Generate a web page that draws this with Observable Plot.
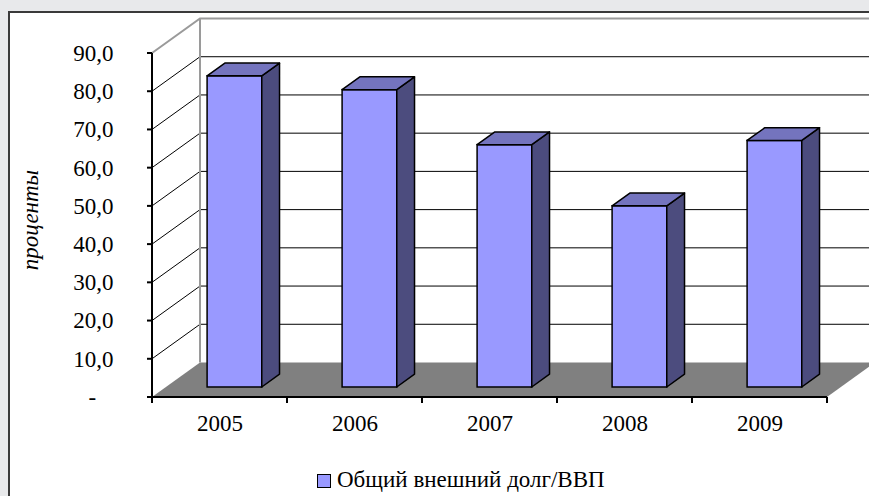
<!DOCTYPE html>
<html><head><meta charset="utf-8">
<script src="https://cdn.jsdelivr.net/npm/d3@7"></script>
<script src="https://cdn.jsdelivr.net/npm/@observablehq/plot@0.6"></script>
<style>
html,body{margin:0;padding:0;}
body{background:#e8e9eb;width:869px;height:496px;overflow:hidden;position:relative;font-family:"Liberation Serif","Times New Roman",serif;}
#box{position:absolute;left:8px;top:11px;width:900px;height:520px;background:#fff;border-left:2px solid #3a3a3a;border-top:2px solid #3a3a3a;}
#chart{position:absolute;left:0;top:0;}
#legend{position:absolute;left:317px;top:468px;font-size:23px;line-height:24px;white-space:nowrap;color:#000;}
#legend .sw{display:inline-block;width:12px;height:12px;background:#9999ff;border:1.5px solid #000;margin-right:6px;vertical-align:-1px;}
</style>
</head><body>
<div id="box"></div>
<div id="chart"></div>
<div id="legend"></div>
<script>
const years = ["2005", "2006", "2007", "2008", "2009"];
const values = [81.4, 77.8, 63.4, 47.4, 64.5];
const yTicks = [0, 10, 20, 30, 40, 50, 60, 70, 80, 90];
const seriesName = "Общий внешний долг/ВВП";
const yLabel = "проценты";

const W = 869, H = 440;
const M = {top: 53, right: 42, bottom: 43, left: 152};
const DEPTH = [48, -34.5];
const FRONT = 0.29, BACK = 0.66;
const BAR_L = 0.305, BAR_R = 0.71;
const bw = (W - M.left - M.right) / years.length;
const off = f => [DEPTH[0] * f, DEPTH[1] * f];

const data = years.map((year, i) => ({year, value: values[i]}));

function room(index, {x, y}) {
  const g = d3.create("svg:g");
  const x0 = M.left, x1 = W - M.right, y0 = y(0);
  const [dx, dy] = DEPTH;
  g.append("path")
    .attr("d", `M${x0},${y0}L${x1},${y0}L${x1 + dx},${y0 + dy}L${x0 + dx},${y0 + dy}Z`)
    .attr("fill", "#808080");
  const top = yTicks[yTicks.length - 1];
  for (const t of yTicks) {
    if (t === 0) continue;
    const yt = y(t);
    g.append("path")
      .attr("d", `M${x0},${yt}L${x0 + dx},${yt + dy}L${x1 + dx + 30},${yt + dy}`)
      .attr("fill", "none")
      .attr("stroke", t === top ? "#9a9a9a" : "#000")
      .attr("stroke-width", t === top ? 2 : 1);
  }
  g.append("line")
    .attr("x1", x0 + dx).attr("x2", x0 + dx)
    .attr("y1", y(top) + dy).attr("y2", y0 + dy)
    .attr("stroke", "#9a9a9a").attr("stroke-width", 2);
  return g.node();
}

function bars3d(index, {x, y}) {
  const g = d3.create("svg:g")
    .attr("stroke", "#000").attr("stroke-width", 1.5).attr("stroke-linejoin", "round");
  const [fx, fy] = off(FRONT), [bx, by] = off(BACK);
  for (const d of data) {
    const L = x(d.year) + BAR_L * bw, R = x(d.year) + BAR_R * bw;
    const yt = y(d.value), y0 = y(0);
    g.append("path")
      .attr("d", `M${R + fx},${yt + fy}L${R + bx},${yt + by}L${R + bx},${y0 + by}L${R + fx},${y0 + fy}Z`)
      .attr("fill", "#4c4c7e");
    g.append("path")
      .attr("d", `M${L + fx},${yt + fy}L${R + fx},${yt + fy}L${R + bx},${yt + by}L${L + bx},${yt + by}Z`)
      .attr("fill", "#7474be");
  }
  return g.node();
}

function frameLines(index, {x, y}) {
  const g = d3.create("svg:g").attr("stroke", "#000").attr("stroke-width", 2);
  const y0 = y(0), x1 = W - M.right;
  g.append("line").attr("x1", M.left).attr("x2", M.left).attr("y1", y(yTicks[yTicks.length - 1])).attr("y2", y0);
  g.append("line").attr("x1", M.left).attr("x2", x1).attr("y1", y0).attr("y2", y0);
  for (const t of yTicks) {
    g.append("line").attr("x1", M.left - 5).attr("x2", M.left).attr("y1", y(t)).attr("y2", y(t));
  }
  const bounds = years.map(d => x(d)).concat([x(years[years.length - 1]) + bw]);
  for (const b of bounds) {
    g.append("line").attr("x1", b).attr("x2", b).attr("y1", y0).attr("y2", y0 + 6);
  }
  return g.node();
}

function axisTitle(index, {y}) {
  const cy = (y(0) + y(yTicks[yTicks.length - 1])) / 2 - 5;
  return d3.create("svg:text")
    .attr("transform", `translate(31,${cy}) rotate(-90)`)
    .attr("text-anchor", "middle")
    .attr("dy", "0.32em")
    .attr("font-style", "italic")
    .attr("font-size", 23)
    .attr("fill", "#000")
    .text(yLabel).node();
}

const fmt = d => d === 0 ? "-\u00a0\u00a0\u00a0" : d3.format(".1f")(d).replace(".", ",");

const chart = Plot.plot({
  width: W, height: H,
  marginTop: M.top, marginRight: M.right, marginBottom: M.bottom, marginLeft: M.left,
  x: {type: "band", domain: years, padding: 0},
  y: {domain: [0, 90], nice: false},
  style: {fontFamily: "'Liberation Serif','Times New Roman',serif", fontSize: "23px", background: "transparent", color: "#000", overflow: "visible"},
  marks: [
    room,
    Plot.barY(data, {
      x: "year", y: "value", fill: "#9999ff", stroke: "#000", strokeWidth: 1.5,
      insetLeft: BAR_L * bw, insetRight: (1 - BAR_R) * bw,
      dx: off(FRONT)[0], dy: off(FRONT)[1]
    }),
    bars3d,
    frameLines,
    Plot.axisY({ticks: yTicks, tickSize: 0, tickPadding: 39, tickFormat: fmt, label: null, fontSize: 23}),
    Plot.axisX({tickSize: 0, tickPadding: 17, label: null, fontSize: 23}),
    axisTitle
  ]
});
document.getElementById("chart").appendChild(chart);

const lg = document.getElementById("legend");
const sw = document.createElement("span");
sw.className = "sw";
lg.appendChild(sw);
lg.appendChild(document.createTextNode(seriesName));
</script>
</body></html>
